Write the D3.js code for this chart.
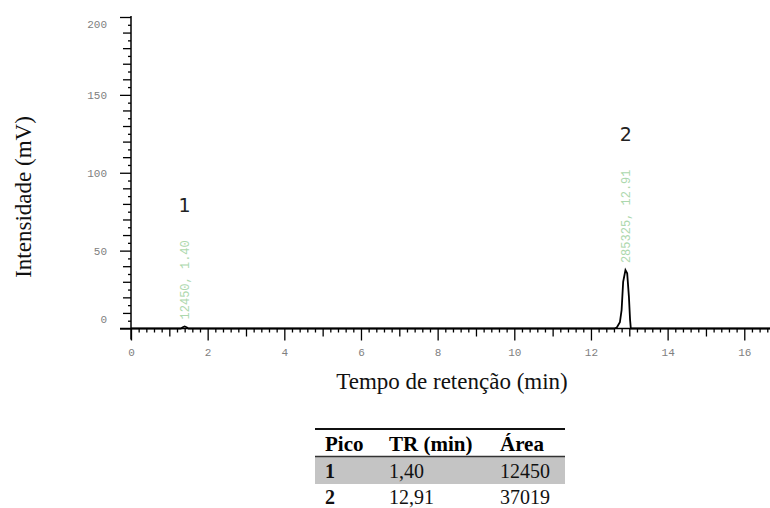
<!DOCTYPE html>
<html>
<head>
<meta charset="utf-8">
<script src="https://cdn.jsdelivr.net/npm/d3@7"></script>
<style>
  body { margin: 0; background: #fff; }
  svg { display: block; }
</style>
</head>
<body>
<svg width="770" height="508"></svg>
<script>
//config
const W = 770;
const H = 508;
const svg = d3.select('svg');

//chromatogram trace (min, mV)
const traceTime = [0, 1.30, 1.35, 1.40, 1.45, 1.50, 12.60, 12.67, 12.755, 12.80, 12.84, 12.90, 12.945, 12.99, 13.02, 13.04, 16.7];
const traceSignal = [0, 0, 0.8, 1.3, 0.8, 0, 0, 0.5, 4, 12, 30, 37.5, 35.5, 20.5, 5.7, 0, 0];

//peaks
const peakIds = ['1', '2'];
const peakTimes = [1.40, 12.91];
const peakHeights = [1.3, 37.5];
const peakAreas = [12450, 285325];

//axis ticks
const xMajor = [0, 2, 4, 6, 8, 10, 12, 14, 16];
const yMajor = [0, 50, 100, 150, 200];

//table
const tableHead = ['Pico', 'TR (min)', 'Área'];
const tablePico = ['1', '2'];
const tableTR = ['1,40', '12,91'];
const tableArea = ['12450', '37019'];

//scales
const x = d3.scaleLinear().domain([0, 16.7]).range([131, 131 + 16.7 * 38.33]);
const y = d3.scaleLinear().domain([0, 200]).range([328.5, 17]);

//axis lines
svg.append('line')
	.attr('x1', x(0)).attr('x2', x(0))
	.attr('y1', y(200) - 1).attr('y2', y(0) + 11)
	.attr('stroke', '#000').attr('stroke-width', 1.5);
svg.append('line')
	.attr('x1', x(0) - 11).attr('x2', W)
	.attr('y1', y(0)).attr('y2', y(0))
	.attr('stroke', '#000').attr('stroke-width', 1.5);

const tickStyle = g => {
	g.select('.domain').remove();
	g.selectAll('line').attr('stroke', '#000').attr('stroke-width', 1.3);
};

//x ticks: minor 0.2, odd integers, even labelled
const xMinor = d3.range(0, 16.7, 0.2).filter(v => Math.abs(v - Math.round(v)) > 0.01);
const xOdd = d3.range(1, 17, 2);
svg.append('g').attr('transform', `translate(0,${y(0)})`)
	.call(d3.axisBottom(x).tickValues(xMinor).tickSize(4).tickFormat(''))
	.call(tickStyle);
svg.append('g').attr('transform', `translate(0,${y(0)})`)
	.call(d3.axisBottom(x).tickValues(xOdd).tickSize(8).tickFormat(''))
	.call(tickStyle);
const gx = svg.append('g').attr('transform', `translate(0,${y(0)})`)
	.call(d3.axisBottom(x).tickValues(xMajor).tickSize(12).tickPadding(8).tickFormat(d3.format('d')))
	.call(tickStyle);
gx.selectAll('text')
	.attr('font-family', 'Liberation Mono, monospace').attr('font-size', 11).attr('fill', '#808080');

//y ticks: 5, 10, 50
const yMinor = d3.range(5, 200, 10);
const yMid = d3.range(10, 200, 10).filter(v => v % 50 != 0);
svg.append('g').attr('transform', `translate(${x(0)},0)`)
	.call(d3.axisLeft(y).tickValues(yMinor).tickSize(3).tickFormat(''))
	.call(tickStyle);
svg.append('g').attr('transform', `translate(${x(0)},0)`)
	.call(d3.axisLeft(y).tickValues(yMid).tickSize(8).tickFormat(''))
	.call(tickStyle);
const gy = svg.append('g').attr('transform', `translate(${x(0)},0)`)
	.call(d3.axisLeft(y).tickValues(yMajor).tickSize(11).tickPadding(13).tickFormat(d3.format('d')))
	.call(tickStyle);
//labels kept inside the axis span
gy.selectAll('.tick text')
	.attr('y', d => Math.min(Math.max(y(d), 24), 319) - y(d))
	.attr('font-family', 'Liberation Mono, monospace').attr('font-size', 11).attr('fill', '#808080');

//trace
const line = d3.line().x((d, i) => x(traceTime[i])).y(d => y(d));
svg.append('path')
	.datum(traceSignal)
	.attr('d', line)
	.attr('fill', 'none')
	.attr('stroke', '#000')
	.attr('stroke-width', 1.8);

//peak annotations
peakIds.forEach((id, i) => {
	const px = x(peakTimes[i]);
	const label = `${peakAreas[i]}, ${peakTimes[i].toFixed(2)}`;
	const startY = y(peakHeights[i]) - 7;
	const t = svg.append('text')
		.attr('transform', `translate(${px},${startY}) rotate(-90)`)
		.attr('dy', '0.35em')
		.attr('font-family', 'Liberation Mono, monospace')
		.attr('font-size', 12)
		.attr('fill', '#add8ad')
		.text(label);
	const len = t.node().getComputedTextLength();
	svg.append('text')
		.attr('x', px)
		.attr('y', startY - len - 28)
		.attr('text-anchor', 'middle')
		.attr('font-family', 'DejaVu Sans, sans-serif')
		.attr('font-size', 19)
		.attr('fill', '#222')
		.text(id);
});

//axis titles
svg.append('text')
	.attr('x', 452).attr('y', 389)
	.attr('text-anchor', 'middle')
	.attr('font-family', 'Liberation Serif, serif')
	.attr('font-size', 23)
	.attr('fill', '#111')
	.text('Tempo de retenção (min)');
svg.append('text')
	.attr('transform', 'translate(31,197) rotate(-90)')
	.attr('text-anchor', 'middle')
	.attr('font-family', 'Liberation Serif, serif')
	.attr('font-size', 23)
	.attr('fill', '#111')
	.text('Intensidade (mV)');

//table
const colX = [325, 389, 500];
const tbl = svg.append('g');
tbl.append('rect').attr('x', 315).attr('y', 457).attr('width', 250).attr('height', 27).attr('fill', '#c4c4c4');
tbl.append('line').attr('x1', 315).attr('x2', 565).attr('y1', 429).attr('y2', 429).attr('stroke', '#111').attr('stroke-width', 2);
tbl.append('line').attr('x1', 315).attr('x2', 565).attr('y1', 456.5).attr('y2', 456.5).attr('stroke', '#333').attr('stroke-width', 1.5);

tbl.selectAll('.head').data(tableHead).enter()
	.append('text')
	.attr('x', (d, i) => colX[i]).attr('y', 451)
	.attr('font-family', 'Liberation Serif, serif').attr('font-size', 21).attr('font-weight', 'bold')
	.text(d => d);

const rowY = [478, 504];
tablePico.forEach((p, r) => {
	const cells = [p, tableTR[r], tableArea[r]];
	tbl.selectAll('.row' + r).data(cells).enter()
		.append('text')
		.attr('x', (d, i) => colX[i]).attr('y', rowY[r])
		.attr('font-family', 'Liberation Serif, serif').attr('font-size', 20)
		.attr('font-weight', (d, i) => i == 0 ? 'bold' : 'normal')
		.attr('fill', '#111')
		.text(d => d);
});
</script>
</body>
</html>
